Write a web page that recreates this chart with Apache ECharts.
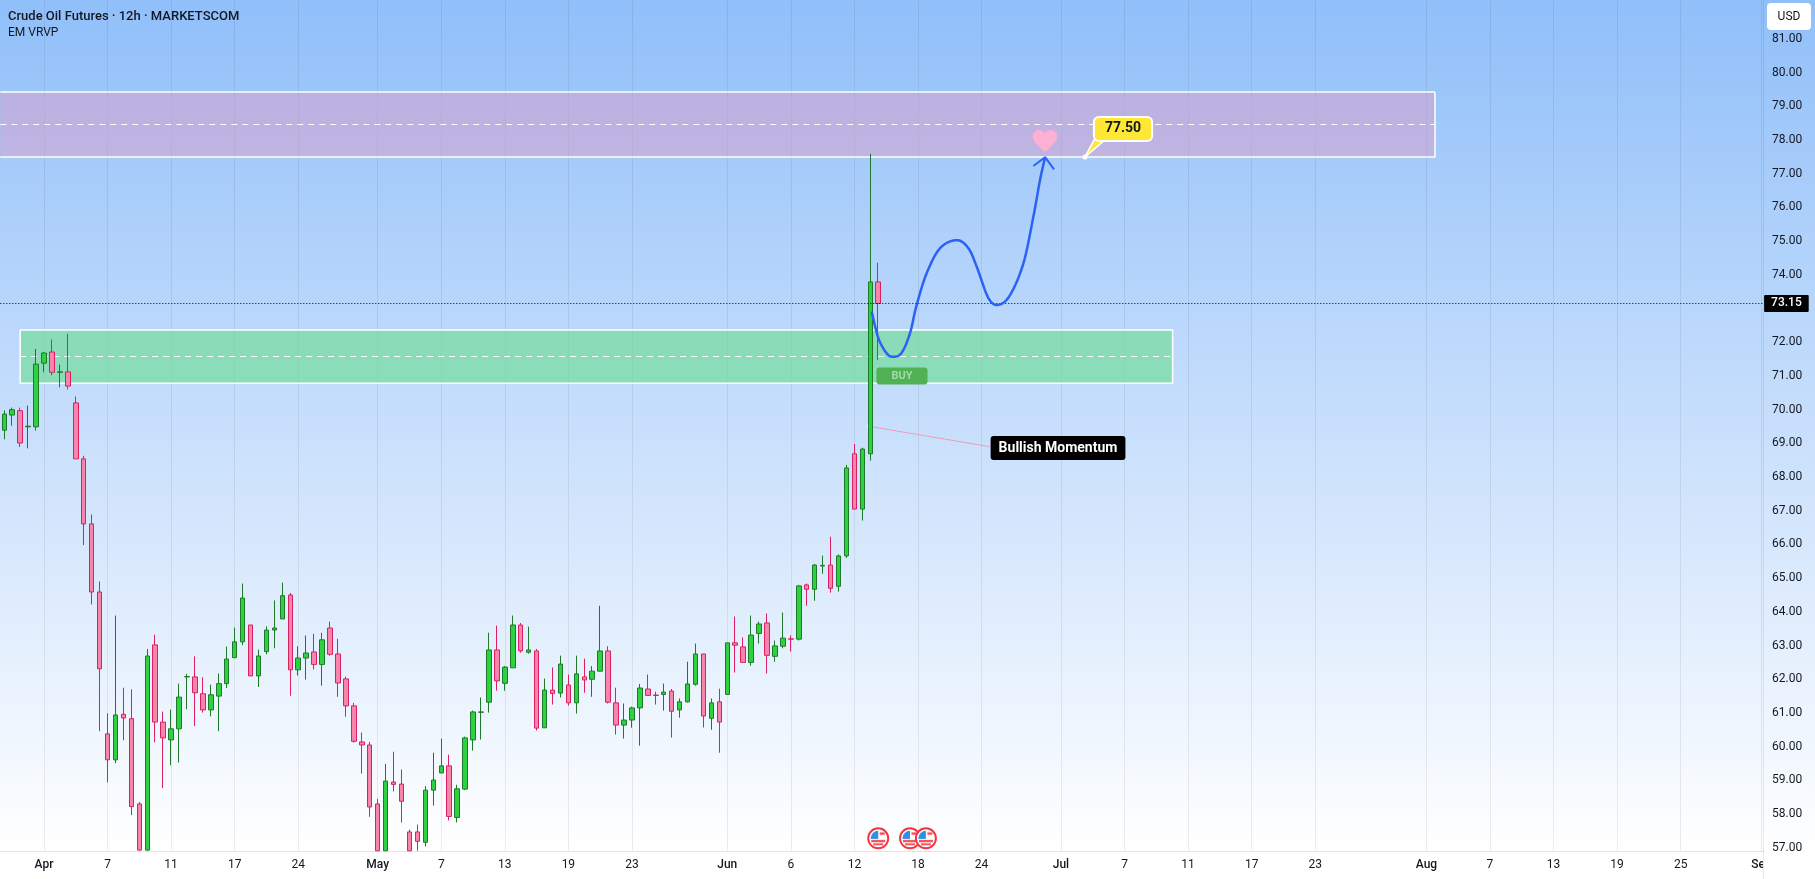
<!DOCTYPE html>
<html>
<head>
<meta charset="utf-8">
<title>Crude Oil Futures</title>
<style>html,body{margin:0;padding:0;background:#fff}#chart{width:1815px;height:879px}</style>
<script src="https://cdn.jsdelivr.net/npm/echarts@6/dist/echarts.min.js"></script>
</head>
<body>
<div id="chart"></div>
<script>
// 12h candles, one row per bar, in time order
const opens = [69.39,69.84,69.97,69.49,69.49,71.38,71.71,71.11,71.12,70.20,68.54,66.61,64.59,60.38,59.61,60.96,60.83,58.30,56.93,63.02,60.73,60.20,60.53,62.07,62.07,61.57,61.09,61.50,61.87,62.64,63.11,63.61,62.10,62.82,63.46,63.79,
  64.50,62.28,62.63,62.81,62.44,63.52,62.75,62.01,61.21,60.14,60.05,58.30,56.91,58.95,58.89,57.47,57.47,57.16,58.71,59.22,59.43,57.90,58.74,60.20,61.02,61.32,62.87,61.88,62.34,63.61,62.80,62.84,60.56,61.68,61.59,61.83,61.30,
  62.07,62.00,62.24,62.84,61.30,60.64,60.79,61.15,61.71,61.53,61.55,61.65,61.09,61.33,61.85,62.75,60.84,61.33,61.55,63.08,62.96,62.50,63.36,63.67,62.68,62.98,63.20,63.19,64.80,64.67,65.36,65.39,64.76,65.66,68.69,67.05,68.69,73.79];
const closes = [69.87,70.00,69.01,69.51,71.35,71.68,71.11,71.12,70.70,68.54,66.61,64.59,62.31,59.61,60.94,60.85,58.22,56.93,62.69,60.73,60.26,60.53,61.47,62.08,61.60,61.09,61.54,61.87,62.60,63.11,64.41,62.10,62.69,63.46,63.52,64.48,
  62.28,62.63,62.78,62.44,63.17,62.74,61.89,61.21,60.16,60.05,58.21,56.91,58.98,58.88,58.38,56.91,57.19,58.71,59.01,59.43,57.93,58.75,60.26,61.03,61.03,62.87,61.95,62.36,63.61,62.84,62.87,60.55,61.68,61.58,62.45,61.30,62.16,
  61.98,62.24,62.84,61.32,60.64,60.79,61.15,61.74,61.52,61.52,61.62,61.05,61.33,61.86,62.75,60.91,61.30,60.73,63.08,63.01,62.50,63.31,63.64,62.71,62.99,63.22,63.19,64.77,64.67,65.39,65.38,64.70,65.66,68.27,67.05,68.83,73.79,73.15];
const lows = [69.12,69.52,68.89,68.85,69.38,71.11,71.02,70.66,70.60,68.54,65.98,64.22,60.46,58.94,59.51,60.19,57.97,56.91,56.91,60.13,58.77,59.45,59.53,61.11,60.61,61.01,60.90,60.46,61.74,62.64,63.01,62.10,61.77,62.74,62.92,63.79,
  61.51,62.11,61.99,62.29,61.81,62.70,61.48,60.89,60.12,59.20,57.92,56.91,56.91,58.67,57.75,56.91,56.91,57.04,58.25,59.22,57.81,57.75,58.71,59.88,60.21,61.01,61.66,61.66,62.34,62.79,62.76,60.48,60.56,61.25,61.46,61.22,60.98,
  61.60,61.48,62.24,61.28,60.36,60.24,60.56,60.03,61.52,61.25,61.07,60.27,60.86,61.31,61.81,60.57,60.50,59.82,61.55,62.20,62.50,62.40,63.06,62.17,62.52,62.92,62.82,63.15,64.18,64.33,65.13,64.57,64.60,65.60,67.05,66.71,68.49,71.47];
const highs = [69.98,70.06,70.06,70.12,71.80,71.71,72.08,71.34,72.25,70.39,68.63,66.89,64.90,60.99,63.89,61.75,61.70,58.36,62.90,63.32,61.04,61.10,61.87,62.16,62.68,62.06,61.84,62.17,62.97,63.53,64.84,63.61,62.88,63.57,64.34,64.87,
  64.56,62.98,63.30,63.35,63.38,63.71,63.20,62.08,61.30,60.42,60.14,58.45,59.49,59.85,59.32,57.54,57.69,58.83,59.82,60.24,59.76,58.87,60.30,61.07,61.46,63.38,63.59,62.39,63.89,63.67,63.56,62.90,62.02,62.35,62.70,62.14,62.70,
  62.61,62.39,64.18,62.98,61.75,61.28,61.19,61.86,62.14,61.63,61.87,61.71,61.43,62.52,63.06,62.75,61.43,61.72,63.08,63.86,63.24,63.89,63.71,63.95,63.15,63.98,63.30,64.80,64.84,65.42,65.67,66.23,65.70,68.36,68.98,68.87,77.59,74.36];

// Bars on the time scale, including the empty stretch to the right of the last candle
const barSlots = 222;

// Date labels along the bottom, by bar position
const dateTickBars = [5,13,21,29,37,47,55,63,71,79,91,99,107,115,123,133,141,149,157,165,179,187,195,203,211,221.18];
const dateTickNames = ['Apr','7','11','17','24','May','7','13','19','23','Jun','6','12','18','24','Jul','7','11','17','23','Aug','7','13','19','25','Sep'];
const monthNames = ['Apr','May','Jun','Jul','Aug','Sep'];

// Price scale
const priceTicks = [57,58,59,60,61,62,63,64,65,66,67,68,69,70,71,72,73,74,75,76,77,78,79,80,81];
const lastPrice = 73.15;

// Supply and demand zones: [first bar, last bar, top, bottom, midline]
const supplyZone = [-0.5, 180.08, 79.42, 77.49, 78.48];
const demandZone = [2, 147.05, 72.36, 70.78, 71.58];

// Projected path after the spike, with its arrow head
const pathBars   = [109.18,110.02,111.07,111.91,112.96,114.00,114.84,116.10,117.78,119.88,121.35,122.40,123.87,125.12,126.59,128.27,129.53,130.37,131.00];
const pathPrices = [72.91,72.12,71.67,71.57,71.69,72.27,73.11,74.05,74.79,75.03,74.79,74.24,73.31,73.11,73.40,74.34,75.73,76.82,77.49];
const arrowBars   = [129.53,131.00,132.13];
const arrowPrices = [77.23,77.49,77.13];

// Callouts
const targetLabel = '77.50';
const targetPrice = 77.50;
const targetTipBar = 136.03;
const targetBox = [140.81, 78.33];
const buyBox = [112.99, 71.00];
const momentumBox = [132.63, 68.86];
const momentumLine = [[108.97, 69.50], [124.07, 68.90]];
const heartSpot = [130.99, 77.97];
const eventBars = [110, 114, 116];
const eventPrice = 57.28;

const categories = [];
for (let i = 0; i < barSlots; i++) categories.push(String(i));

const FONT = 'Roboto, "Noto Sans", sans-serif';
const INK = '#131722';

const candleData = opens.map((o, i) => [o, closes[i], lows[i], highs[i]]);

const HEART = 'path://M12 21 C5 15 0 11 0 6 C0 2.5 2.6 0 6 0 C8.4 0 10.8 1.3 12 3.5 C13.2 1.3 15.6 0 18 0 C21.4 0 24 2.5 24 6 C24 11 19 15 12 21 Z';

// Anchored text box, placed on the bar/price scales
function tagSeries(point, text, labelStyle) {
  return {
    type: 'scatter', xAxisIndex: 1, yAxisIndex: 0, z: 6, silent: true,
    symbolSize: 1, itemStyle: { color: 'transparent', opacity: 1 },
    data: [point],
    label: Object.assign({ show: true, position: 'inside', align: 'center', verticalAlign: 'middle', formatter: text, fontFamily: FONT, opacity: 1 }, labelStyle)
  };
}

// Horizontal segment across a zone
function zoneEdge(zone, price, style) {
  return [{ xAxis: zone[0], yAxis: price, lineStyle: style }, { xAxis: zone[1], yAxis: price }];
}

// Catmull-Rom curve through the projected path, sampled on screen
function renderPath(params, api) {
  if (params.dataIndex !== 0) return null;
  const pts = pathBars.map((b, i) => api.coord([b, pathPrices[i]]));
  const out = [];
  for (let i = 0; i < pts.length - 1; i++) {
    const p0 = pts[Math.max(i - 1, 0)], p1 = pts[i], p2 = pts[i + 1], p3 = pts[Math.min(i + 2, pts.length - 1)];
    for (let s = 0; s < 10; s++) {
      const t = s / 10, t2 = t * t, t3 = t2 * t;
      out.push([0, 1].map(k => 0.5 * (2 * p1[k] + (p2[k] - p0[k]) * t + (2 * p0[k] - 5 * p1[k] + 4 * p2[k] - p3[k]) * t2 + (3 * p1[k] - p0[k] - 3 * p2[k] + p3[k]) * t3)));
    }
  }
  out.push(pts[pts.length - 1]);
  return { type: 'polyline', shape: { points: out }, style: { fill: 'none', stroke: '#2b62f5', lineWidth: 2.5, lineJoin: 'round' } };
}

// Round US flag badge for an economic event
function renderFlag(params, api) {
  const p = api.coord([api.value(0), api.value(1)]);
  const r = 10;
  return {
    type: 'group', x: p[0], y: p[1], children: [
      { type: 'circle', shape: { cx: 0, cy: 0, r: r }, style: { fill: '#ffffff', stroke: '#f23645', lineWidth: 2 } },
      { type: 'sector', shape: { cx: 0, cy: 0, r0: 0, r: r - 2.5, startAngle: Math.PI, endAngle: Math.PI * 1.5 }, style: { fill: '#2e8fe8' } },
      { type: 'rect', shape: { x: -7.5, y: -0.5, width: 7.5, height: 1 }, style: { fill: '#2e8fe8' } },
      { type: 'rect', shape: { x: 1.5, y: -6, width: 5, height: 2.5 }, style: { fill: '#f5575f' } },
      { type: 'rect', shape: { x: -7, y: 1.5, width: 14, height: 2.5 }, style: { fill: '#f5575f' } },
      { type: 'rect', shape: { x: -5, y: 5, width: 10, height: 2 }, style: { fill: '#f5575f' } }
    ]
  };
}

const chart = echarts.init(document.getElementById('chart'), null, { renderer: 'canvas' });

const edgeStyle = { color: '#fff', type: 'solid', width: 1.5 };

chart.setOption({
  animation: false,
  backgroundColor: {
    type: 'linear', x: 0, y: 0, x2: 0, y2: 1,
    colorStops: [{ offset: 0, color: '#90bff9' }, { offset: 0.968, color: '#ffffff' }, { offset: 1, color: '#ffffff' }]
  },
  title: [
    { text: 'Crude Oil Futures · 12h · MARKETSCOM', left: 8, top: 10, padding: 0, textStyle: { fontFamily: FONT, fontSize: 13, fontWeight: 500, color: INK } },
    { text: 'EM VRVP', left: 8, top: 27, padding: 0, textStyle: { fontFamily: FONT, fontSize: 12, fontWeight: 400, color: INK } }
  ],
  grid: { left: 0.3, right: 50.9, top: 0, bottom: 28, containLabel: false },
  xAxis: [
    { type: 'category', data: categories, show: false, boundaryGap: true },
    {
      type: 'value', min: -0.5, max: barSlots - 0.5, position: 'bottom',
      axisLine: { show: true, onZero: false, lineStyle: { color: '#e0e3eb' } },
      axisTick: { show: false, customValues: dateTickBars },
      splitLine: { show: true, lineStyle: { color: 'rgba(42,46,57,0.09)', width: 1 } },
      axisLabel: {
        customValues: dateTickBars, margin: 8, color: INK, fontFamily: FONT, fontSize: 12,
        showMinLabel: true, showMaxLabel: true, hideOverlap: false,
        formatter: v => {
          const name = dateTickNames[dateTickBars.indexOf(v)];
          return monthNames.includes(name) ? '{m|' + name + '}' : name;
        },
        rich: { m: { fontWeight: 500, fontFamily: FONT, fontSize: 12, color: INK } }
      }
    }
  ],
  yAxis: {
    type: 'value', position: 'right', min: 56.904, max: 82.155,
    axisLine: { show: false }, axisTick: { show: false }, splitLine: { show: false },
    axisLabel: {
      customValues: priceTicks, margin: 8, align: 'left', color: INK, fontFamily: FONT, fontSize: 12,
      formatter: v => v.toFixed(2)
    }
  },
  series: [
    {
      type: 'candlestick', xAxisIndex: 0, yAxisIndex: 0, z: 3, barWidth: 5, clip: true,
      data: candleData,
      itemStyle: { color: '#2ed13f', color0: '#f685ac', borderColor: '#1e7a2a', borderColor0: '#dc1f63', borderWidth: 1 }
    },
    {
      // Zones and their edges and midlines, kept under the candles
      type: 'line', xAxisIndex: 1, yAxisIndex: 0, z: 1, symbol: 'none', silent: true, data: [],
      markArea: {
        silent: true, z: 1,
        data: [
          [{ xAxis: supplyZone[0], yAxis: supplyZone[2], itemStyle: { color: 'rgba(218,158,202,0.5)', borderWidth: 0 } }, { xAxis: supplyZone[1], yAxis: supplyZone[3] }],
          [{ xAxis: demandZone[0], yAxis: demandZone[2], itemStyle: { color: 'rgba(110,221,148,0.65)', borderColor: '#fff', borderWidth: 1.5 } }, { xAxis: demandZone[1], yAxis: demandZone[3] }]
        ]
      },
      markLine: {
        silent: true, symbol: 'none', z: 1, animation: false,
        lineStyle: { color: '#fff', type: [6, 5], width: 1 }, label: { show: false },
        data: [
          zoneEdge(supplyZone, supplyZone[2], edgeStyle),
          zoneEdge(supplyZone, supplyZone[3], edgeStyle),
          [{ xAxis: supplyZone[1], yAxis: supplyZone[2], lineStyle: edgeStyle }, { xAxis: supplyZone[1], yAxis: supplyZone[3] }],
          zoneEdge(supplyZone, supplyZone[4]),
          zoneEdge(demandZone, demandZone[4])
        ]
      }
    },
    {
      type: 'line', xAxisIndex: 1, yAxisIndex: 0, z: 4, symbol: 'none', silent: true, data: [],
      markLine: {
        silent: true, symbol: 'none', z: 4, animation: false,
        data: [
          {
            yAxis: lastPrice,
            lineStyle: { color: '#000', type: [1, 2], width: 1 },
            label: {
              show: true, position: 'end', distance: 0, formatter: lastPrice.toFixed(2),
              backgroundColor: '#000', color: '#fff', padding: [3, 7, 2, 7], borderRadius: 1,
              fontFamily: FONT, fontSize: 12, fontWeight: 500
            }
          }
        ]
      }
    },
    {
      // Connector to the momentum note, drawn under the candles
      type: 'line', xAxisIndex: 1, yAxisIndex: 0, z: 2, symbol: 'none', silent: true,
      data: momentumLine, lineStyle: { color: 'rgba(244,143,177,0.85)', width: 1 }
    },
    {
      type: 'scatter', xAxisIndex: 1, yAxisIndex: 0, z: 2, silent: true, symbolSize: 6,
      data: [momentumLine[0]], itemStyle: { color: 'rgba(255,255,255,0.8)', opacity: 1 }
    },
    {
      type: 'custom', xAxisIndex: 1, yAxisIndex: 0, z: 5, silent: true,
      data: pathBars.map((b, i) => [b, pathPrices[i]]), renderItem: renderPath
    },
    {
      type: 'line', xAxisIndex: 1, yAxisIndex: 0, z: 5, symbol: 'none', silent: true,
      data: arrowBars.map((b, i) => [b, arrowPrices[i]]),
      lineStyle: { color: '#2b62f5', width: 2 }
    },
    {
      type: 'scatter', xAxisIndex: 1, yAxisIndex: 0, z: 5, silent: true,
      symbol: HEART, symbolSize: [24, 22], data: [heartSpot],
      itemStyle: { color: '#fbb0d4', opacity: 1, shadowBlur: 2, shadowColor: 'rgba(249,169,207,0.8)' }
    },
    {
      // Speech-bubble tail from the target box down to the target price
      type: 'custom', xAxisIndex: 1, yAxisIndex: 0, z: 6, silent: true, clip: false,
      data: [[targetTipBar, targetPrice, targetBox[0], targetBox[1]]],
      renderItem: (params, api) => {
        const tip = api.coord([api.value(0), api.value(1)]);
        const box = api.coord([api.value(2), api.value(3)]);
        return {
          type: 'group', children: [
            { type: 'polygon', shape: { points: [tip, [box[0] - 29, box[1] + 11], [box[0] - 18, box[1] + 11]] }, style: { fill: '#ffe835', stroke: '#fff', lineWidth: 1.5 } },
            { type: 'circle', shape: { cx: tip[0], cy: tip[1], r: 2.5 }, style: { fill: '#fff' } }
          ]
        };
      }
    },
    tagSeries(targetBox, targetLabel, {
      backgroundColor: '#ffe835', borderColor: '#fff', borderWidth: 2, borderRadius: 4,
      padding: [4, 10, 4, 10], color: INK, fontSize: 14, fontWeight: 700
    }),
    tagSeries(buyBox, 'BUY', {
      backgroundColor: '#50b254', borderRadius: 3, padding: [3, 15, 3, 15], color: '#a0dcab', fontSize: 11, fontWeight: 700
    }),
    tagSeries(momentumBox, 'Bullish Momentum', {
      backgroundColor: '#000', borderRadius: 3, padding: [5, 8, 5, 8], color: '#fff', fontSize: 14, fontWeight: 700
    }),
    {
      type: 'custom', xAxisIndex: 1, yAxisIndex: 0, z: 6, silent: true, clip: false,
      data: eventBars.map(b => [b, eventPrice]), renderItem: renderFlag
    }
  ],
  graphic: [
    // Price panel corner hides the date label running under it
    { type: 'rect', z: 100, shape: { x: 1763, y: 852, width: 52, height: 27 }, style: { fill: '#fff' } },
    { type: 'rect', z: 101, shape: { x: 1763, y: 0, width: 1, height: 879 }, style: { fill: 'rgba(42,46,57,0.1)' } },
    {
      type: 'group', left: 1767, top: 3, z: 101, children: [
        { type: 'rect', shape: { x: 0, y: 0, width: 44, height: 27, r: 4 }, style: { fill: '#fff' } },
        { type: 'text', x: 22, y: 13.5, style: { text: 'USD', fill: INK, font: '12px ' + FONT, textAlign: 'center', textVerticalAlign: 'middle' } }
      ]
    }
  ]
});
</script>
</body>
</html>
